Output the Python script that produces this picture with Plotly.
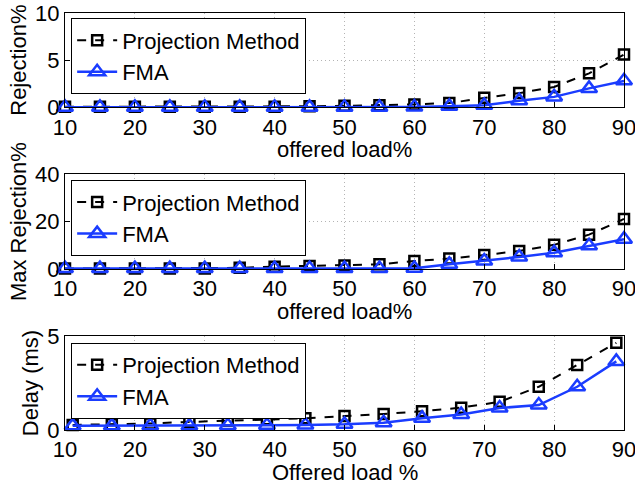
import plotly.graph_objects as go

# ---------------- data ----------------
load_a = [10, 15, 20, 25, 30, 35, 40, 45, 50, 55, 60, 65, 70, 75, 80, 85, 90]
rej_proj = [0.05, 0.05, 0.05, 0.05, 0.05, 0.05, 0.05, 0.1, 0.15, 0.2, 0.3, 0.45, 1.0, 1.5, 2.15, 3.6, 5.6]
rej_fma = [0.0, 0.0, 0.0, 0.0, 0.0, 0.0, 0.0, 0.0, 0.0, 0.0, 0.02, 0.1, 0.2, 0.7, 1.1, 2.0, 2.8]

maxrej_proj = [0.2, 0.2, 0.2, 0.2, 0.2, 0.5, 1.0, 1.3, 1.5, 2.0, 3.4, 4.4, 5.9, 7.6, 10.2, 14.5, 21.1]
maxrej_fma = [0.2, 0.2, 0.2, 0.2, 0.2, 0.2, 0.2, 0.2, 0.2, 0.2, 0.3, 2.0, 3.4, 5.1, 6.9, 9.8, 12.6]

load_b = [11.1, 16.7, 22.2, 27.8, 33.3, 38.9, 44.4, 50.0, 55.6, 61.1, 66.7, 72.2, 77.8, 83.3, 88.9]
delay_proj = [0.27, 0.3, 0.35, 0.43, 0.5, 0.57, 0.62, 0.74, 0.85, 1.0, 1.19, 1.5, 2.3, 3.46, 4.64]
delay_fma = [0.22, 0.22, 0.23, 0.23, 0.24, 0.25, 0.27, 0.3, 0.38, 0.63, 0.82, 1.17, 1.33, 2.3, 3.65]

x_ticks = [10, 20, 30, 40, 50, 60, 70, 80, 90]
name_proj = "Projection Method"
name_fma = "FMA"
x_titles = ["offered load%", "offered load%", "Offered load %"]

BLUE = "#1a3cff"
FONT = "Liberation Sans, Arial, Helvetica, sans-serif"
FS = 22

fig = go.Figure()

panels = [
    (load_a, rej_proj, rej_fma, "x", "y", "legend"),
    (load_a, maxrej_proj, maxrej_fma, "x2", "y2", "legend2"),
    (load_b, delay_proj, delay_fma, "x3", "y3", "legend3"),
]
for xs, p, f, xa, ya, lg in panels:
    fig.add_trace(go.Scatter(
        x=xs, y=p, name=name_proj, mode="lines+markers", xaxis=xa, yaxis=ya, legend=lg,
        line=dict(color="black", width=2, dash="dash"),
        marker=dict(symbol="square-open", size=10, color="black", line=dict(width=2.5)),
        cliponaxis=False,
    ))
    fig.add_trace(go.Scatter(
        x=xs, y=f, name=name_fma, mode="lines+markers", xaxis=xa, yaxis=ya, legend=lg,
        line=dict(color=BLUE, width=2.5),
        marker=dict(symbol="triangle-up-open", size=14, color=BLUE, line=dict(width=2.5)),
        cliponaxis=False,
    ))

GRID = "#b4b4b4"
common_x = dict(
    range=[10, 90], tickvals=x_ticks, showline=True, mirror=True, linecolor="black", linewidth=1,
    ticks="inside", ticklen=5, tickcolor="black", showgrid=True, gridcolor=GRID,
    griddash="1px,3px", gridwidth=1, zeroline=False, tickfont=dict(size=FS, color="black"),
    ticklabelstandoff=0, automargin=False, ticklabeloverflow="allow",
)
common_y = dict(
    showline=True, mirror=True, linecolor="black", linewidth=1,
    ticks="inside", ticklen=5, tickcolor="black", showgrid=True, gridcolor=GRID,
    griddash="1px,3px", gridwidth=1, zeroline=False, tickfont=dict(size=FS, color="black"),
    automargin=False, ticklabeloverflow="allow",
)

dom1 = [0.774, 1.0]
dom2 = [0.386, 0.6135]
dom3 = [0.0, 0.2253]

title_font = dict(size=FS, color="black")
fig.update_layout(
    width=635, height=487,
    margin=dict(l=65, r=11, t=13, b=57, autoexpand=False),
    paper_bgcolor="white", plot_bgcolor="white",
    font=dict(family=FONT, size=FS, color="black"),
    xaxis=dict(**common_x, domain=[0, 1], anchor="y"),
    yaxis=dict(**common_y, domain=dom1, anchor="x", range=[0, 10], tickvals=[0, 5, 10],
               title=dict(text="Rejection%", font=title_font, standoff=2)),
    xaxis2=dict(**common_x, domain=[0, 1], anchor="y2"),
    yaxis2=dict(**common_y, domain=dom2, anchor="x2", range=[0, 40], tickvals=[0, 20, 40],
                title=dict(text="Max Rejection%", font=title_font, standoff=2)),
    xaxis3=dict(**common_x, domain=[0, 1], anchor="y3"),
    yaxis3=dict(**common_y, domain=dom3, anchor="x3", range=[0, 5], tickvals=[0, 5],
                title=dict(text="Delay (ms)", font=title_font, standoff=2)),
    showlegend=True,
)

# x-axis titles placed tight under the tick labels (as in the reference)
for (xr, yr, shift), txt in zip([("x domain", "y domain", -42),
                                 ("x2 domain", "y2 domain", -42),
                                 ("x3 domain", "y3 domain", -42)], x_titles):
    fig.add_annotation(text=txt, xref=xr, yref=yr, x=0.5, y=0, xanchor="center",
                       yanchor="middle", yshift=shift, showarrow=False,
                       font=title_font)

leg_common = dict(
    bgcolor="white", bordercolor="black", borderwidth=1,
    font=dict(size=FS, color="black", family=FONT),
    xanchor="left", yanchor="top", itemwidth=40, tracegroupgap=0,
)
fig.update_layout(
    legend=dict(**leg_common, x=0.011, y=0.987),
    legend2=dict(**leg_common, x=0.011, y=0.599),
    legend3=dict(**leg_common, x=0.011, y=0.209),
)

fig.write_html(
    "out.html",
    config={"displayModeBar": False},
    post_script="document.body.style.margin='0';document.body.style.padding='0';"
                "document.body.style.overflow='hidden';",
)
